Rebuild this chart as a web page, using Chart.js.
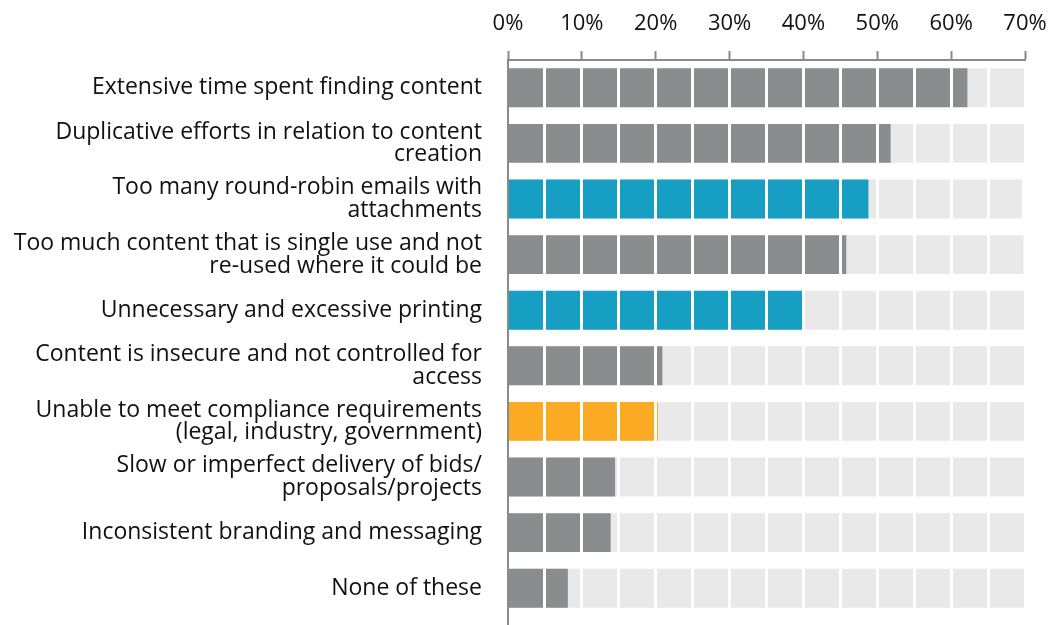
<!DOCTYPE html>
<html>
<head>
<meta charset="utf-8">
<script src="https://cdn.jsdelivr.net/npm/chart.js@4"></script>
<style>
  html, body { margin: 0; padding: 0; background: #fff; }
  #wrap { width: 1051px; height: 625px; position: relative; }
</style>
</head>
<body>
<div id="wrap"><canvas id="c" width="1051" height="625"></canvas></div>
<script>
const categories = [
  "Extensive time spent finding content",
  ["Duplicative efforts in relation to content", "creation"],
  ["Too many round-robin emails with", "attachments"],
  ["Too much content that is single use and not", "re-used where it could be"],
  "Unnecessary and excessive printing",
  ["Content is insecure and not controlled for", "access"],
  ["Unable to meet compliance requirements", "(legal, industry, government)"],
  ["Slow or imperfect delivery of bids/", "proposals/projects"],
  "Inconsistent branding and messaging",
  "None of these"
];
const values = [62.2, 51.8, 48.8, 45.8, 40.0, 20.9, 20.3, 14.5, 13.9, 8.1];
const backgroundValues = [70, 70, 69.6, 69.8, 70, 70, 70, 70, 70, 70];
const majorTicks = [0, 10, 20, 30, 40, 50, 60, 70];
const minorTicks = [0, 5, 10, 15, 20, 25, 30, 35, 40, 45, 50, 55, 60, 65, 70];

const GRAY = '#8b8c8e', BLUE = '#169fc2', ORANGE = '#fbaa24', BG = '#e9e9e9';
const barColors = [GRAY, GRAY, BLUE, GRAY, BLUE, GRAY, ORANGE, GRAY, GRAY, GRAY];
const AXIS = '#8a8a8a';
const FONT = '"Open Sans", Lato, sans-serif';

const axisExtend = {
  id: 'axisExtend',
  afterDraw(chart) {
    const { ctx, chartArea } = chart;
    ctx.save();
    ctx.strokeStyle = AXIS;
    ctx.lineWidth = 2;
    ctx.beginPath();
    ctx.moveTo(chartArea.left, chartArea.bottom);
    ctx.lineTo(chartArea.left, chart.height);
    ctx.stroke();
    ctx.restore();
  }
};

new Chart(document.getElementById('c'), {
  type: 'bar',
  data: {
    labels: categories,
    datasets: [
      { data: values, backgroundColor: barColors, order: 0,
        barPercentage: 0.70, categoryPercentage: 1.0, xAxisID: 'x' },
      { data: backgroundValues, backgroundColor: BG, order: 1,
        barPercentage: 0.70, categoryPercentage: 1.0, xAxisID: 'x' }
    ]
  },
  options: {
    indexAxis: 'y',
    responsive: false,
    animation: false,
    events: [],
    layout: { padding: { left: 0, right: 26, top: 0, bottom: 9 } },
    plugins: { legend: { display: false }, tooltip: { enabled: false } },
    scales: {
      x: {
        position: 'top',
        min: 0, max: 70,
        afterBuildTicks: s => { s.ticks = majorTicks.map(v => ({ value: v })); },
        afterFit: s => { s.height = 60; s.paddingLeft = 0; s.paddingRight = 0; },
        grid: { display: true, drawOnChartArea: false, drawTicks: true, z: 2,
                tickLength: 9, tickWidth: 2, tickColor: AXIS, color: AXIS },
        border: { display: true, color: AXIS, width: 2, z: 2 },
        ticks: { color: '#111', padding: 14, font: { family: FONT, size: 22 },
                 callback: v => v + '%', maxRotation: 0, z: 2 }
      },
      x2: {
        position: 'bottom',
        min: 0, max: 70,
        afterBuildTicks: s => { s.ticks = minorTicks.map(v => ({ value: v })); },
        afterFit: s => { s.height = 0; s.paddingLeft = 0; s.paddingRight = 0; },
        grid: { display: true, drawOnChartArea: true, drawTicks: false, z: 1,
                lineWidth: 3,
                color: c => (c.tick && c.tick.value === 0) ? 'rgba(0,0,0,0)' : '#ffffff' },
        border: { display: false },
        ticks: { display: false }
      },
      y: {
        stacked: true,
        afterFit: s => { s.width = 508; s.paddingTop = 0; s.paddingBottom = 0; },
        grid: { display: false, drawTicks: false },
        border: { display: true, color: AXIS, width: 2, z: 2 },
        ticks: { color: '#111', padding: 26, crossAlign: 'near',
                 font: { family: FONT, size: 23, lineHeight: 0.99 } }
      }
    }
  },
  plugins: [axisExtend]
});
</script>
</body>
</html>
